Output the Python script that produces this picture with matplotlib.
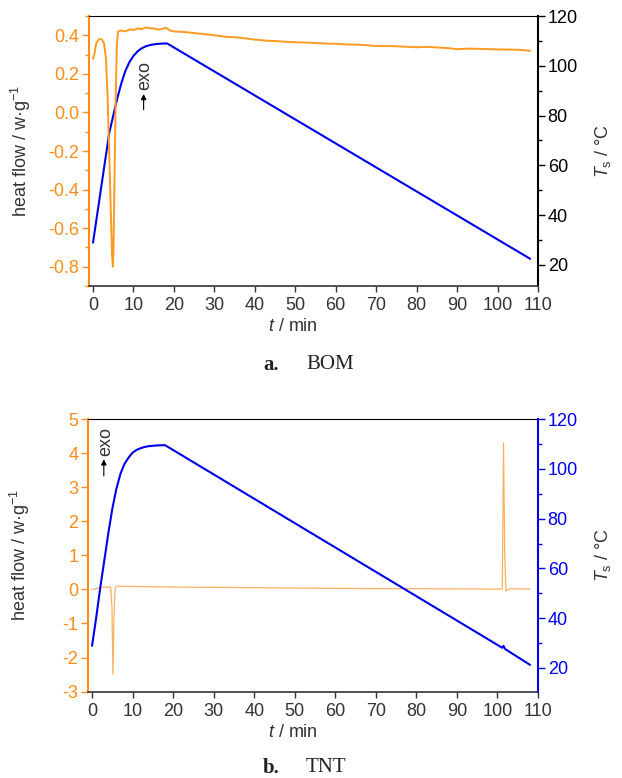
import matplotlib
matplotlib.use("Agg")
import matplotlib.pyplot as plt
from matplotlib.ticker import MultipleLocator

plt.rcParams['font.family'] = ['Liberation Sans', 'DejaVu Sans']
plt.rcParams['mathtext.fontset'] = 'custom'
plt.rcParams['mathtext.rm'] = 'Liberation Sans'
plt.rcParams['mathtext.it'] = 'Liberation Sans:italic'

ORANGE = '#FF8C1A'
BLUE = '#0000F0'
GREY = '#333333'
FS = 13

# --- BOM (panel a) ---
bom_hf_t = [0, 0.3, 0.8, 1.5, 2.1, 2.7, 3.2, 3.6, 4.0, 4.4, 4.7, 4.9, 5.05, 5.3, 5.6, 5.9, 6.2,
            7, 8, 9, 10, 11, 12, 13, 14, 15, 16, 17, 18, 19, 20, 22, 25, 28, 30, 33, 35, 38, 40,
            43, 45, 48, 50, 53, 55, 58, 60, 63, 65, 68, 70, 73, 75, 78, 80, 83, 85, 88, 90, 93,
            95, 98, 100, 103, 105, 107, 108]
bom_hf = [0.28, 0.30, 0.36, 0.38, 0.38, 0.36, 0.28, 0.08, -0.22, -0.52, -0.74, -0.80, -0.72,
          -0.35, 0.08, 0.36, 0.42, 0.425, 0.42, 0.43, 0.428, 0.435, 0.432, 0.44, 0.437, 0.435,
          0.43, 0.432, 0.44, 0.425, 0.42, 0.418, 0.412, 0.405, 0.40, 0.392, 0.39, 0.383, 0.378,
          0.372, 0.37, 0.366, 0.364, 0.362, 0.36, 0.357, 0.356, 0.352, 0.352, 0.348, 0.344,
          0.345, 0.343, 0.34, 0.338, 0.34, 0.337, 0.333, 0.328, 0.331, 0.33, 0.328, 0.327,
          0.326, 0.325, 0.322, 0.32]
bom_T_t = [0, 1, 2, 3, 4, 5, 6, 7, 8, 9, 10, 11, 12, 13, 14, 15, 16, 17, 18.3, 108]
bom_T = [29, 40, 51, 62, 73, 80, 87, 93, 98, 101.5, 104, 105.8, 107, 107.8, 108.3, 108.6,
         108.8, 108.9, 109, 22.5]

# --- TNT (panel b) ---
tnt_hf_t = [0, 1, 2, 4, 4.6, 4.9, 5.15, 5.4, 5.7, 6.1, 8, 20, 40, 60, 80, 100, 101.2, 101.5,
            101.8, 102.1, 103, 108]
tnt_hf = [0.0, 0.02, 0.06, 0.07, 0.06, -0.5, -2.5, -0.8, 0.05, 0.1, 0.09, 0.07, 0.05, 0.03,
          0.02, 0.01, 0.02, 4.3, 1.0, -0.05, 0.02, 0.01]
tnt_T_t = [0, 1, 2, 3, 4, 5, 6, 7, 8, 9, 10, 11, 12, 13, 14, 16, 18, 101.2, 101.5, 101.9, 108]
tnt_T = [29, 40, 52, 63, 74, 84, 92, 98, 102, 104.5, 106.5, 107.6, 108.3, 108.8, 109.1,
         109.4, 109.5, 28.1, 28.9, 27.6, 21.3]

x_ticks = list(range(0, 111, 10))

fig = plt.figure(figsize=(6.22, 7.78), dpi=100)
ax_a = fig.add_axes([0.1431, 0.6324, 0.7218, 0.347])
ax_b = fig.add_axes([0.1415, 0.1110, 0.7234, 0.3504])


def style_panel(ax, right_color, left_minor, right_minor):
    ax2 = ax.twinx()
    ax.set_xlim(-1, 110)
    ax.set_xticks(x_ticks)
    ax.tick_params(axis='x', direction='out', length=4, width=1, colors=GREY,
                   labelsize=FS, pad=4)
    ax.tick_params(axis='y', which='both', direction='out', width=1, colors=ORANGE,
                   labelsize=FS, pad=2)
    ax.tick_params(axis='y', which='major', length=5)
    ax.tick_params(axis='y', which='minor', length=3)
    ax.yaxis.set_minor_locator(MultipleLocator(left_minor))
    ax.spines['left'].set_color(ORANGE)
    ax.spines['left'].set_linewidth(1.5)
    ax.spines['right'].set_visible(False)
    ax.spines['top'].set_color('black')
    ax.spines['bottom'].set_color(GREY)
    ax.spines['bottom'].set_linewidth(1.2)

    ax2.spines['left'].set_visible(False)
    ax2.spines['top'].set_visible(False)
    ax2.spines['bottom'].set_visible(False)
    ax2.spines['right'].set_color(right_color)
    ax2.spines['right'].set_linewidth(1.5)
    ax2.tick_params(axis='y', which='both', direction='out', width=1,
                    colors=right_color, labelsize=FS, pad=2)
    ax2.tick_params(axis='y', which='major', length=5)
    ax2.tick_params(axis='y', which='minor', length=3)
    ax2.yaxis.set_minor_locator(MultipleLocator(right_minor))
    ax2.set_yticks(range(20, 121, 20))

    ax.set_ylabel(r"heat flow / w·g$^{-1}$", fontsize=FS, color=GREY)
    ax.yaxis.set_label_coords(-0.125, 0.5)
    ax2.set_ylabel(r"$T_\mathrm{s}$ / °C", fontsize=FS, color=GREY)
    ax2.yaxis.set_label_coords(1.122, 0.5)
    ax.set_xlabel(r"$t$ / min", fontsize=FS, color=GREY, va='center')
    ax.xaxis.set_label_coords(0.455, -0.15)
    return ax2


# panel a
ax_a2 = style_panel(ax_a, 'black', 0.1, 10)
ax_a.set_ylim(-0.9, 0.5)
ax_a.set_yticks([-0.8, -0.6, -0.4, -0.2, 0.0, 0.2, 0.4])
ax_a.set_yticklabels(['-0.8', '-0.6', '-0.4', '-0.2', '0.0', '0.2', '0.4'])
ax_a2.set_ylim(11.5, 120)
ax_a2.plot(bom_T_t, bom_T, color=BLUE, lw=1.5)
ax_a.plot(bom_hf_t, bom_hf, color='#FF9A20', lw=1.4, zorder=5)
ax_a.set_zorder(ax_a2.get_zorder() + 1)
ax_a.patch.set_visible(False)
ax_a.annotate('', xy=(12.5, 0.11), xytext=(12.5, 0.0),
              arrowprops=dict(arrowstyle='-|>', color='black', lw=0.8,
                              mutation_scale=8))
ax_a.text(12.7, 0.19, 'exo', rotation=90, ha='center', va='center', fontsize=FS,
          color=GREY)

# panel b
ax_b2 = style_panel(ax_b, BLUE, 1, 10)
ax_b.set_ylim(-3, 5)
ax_b.set_yticks(range(-3, 6))
ax_b.set_yticklabels([str(v) for v in range(-3, 6)])
ax_b2.set_ylim(10.5, 120)
ax_b2.plot(tnt_T_t, tnt_T, color=BLUE, lw=1.5)
ax_b.plot(tnt_hf_t, tnt_hf, color='#F9A445', lw=0.9, alpha=0.85, zorder=5)
ax_b.annotate('', xy=(2.9, 3.9), xytext=(2.9, 3.25),
              arrowprops=dict(arrowstyle='-|>', color='black', lw=0.8,
                              mutation_scale=8))
ax_b.text(3.3, 4.33, 'exo', rotation=90, ha='center', va='center', fontsize=FS,
          color=GREY)

# captions
for y, letter, name in [(1 - 365 / 778, 'a.', 'BOM'), (1 - 768 / 778, 'b.', 'TNT')]:
    fig.text(263 / 622, y, letter, fontsize=15, fontweight='bold',
             family='Liberation Serif', color='#222222', va='center')
    fig.text(306 / 622, y, name, fontsize=15, family='Liberation Serif',
             color='#222222', va='center')

fig.savefig('out.png', dpi=100)
